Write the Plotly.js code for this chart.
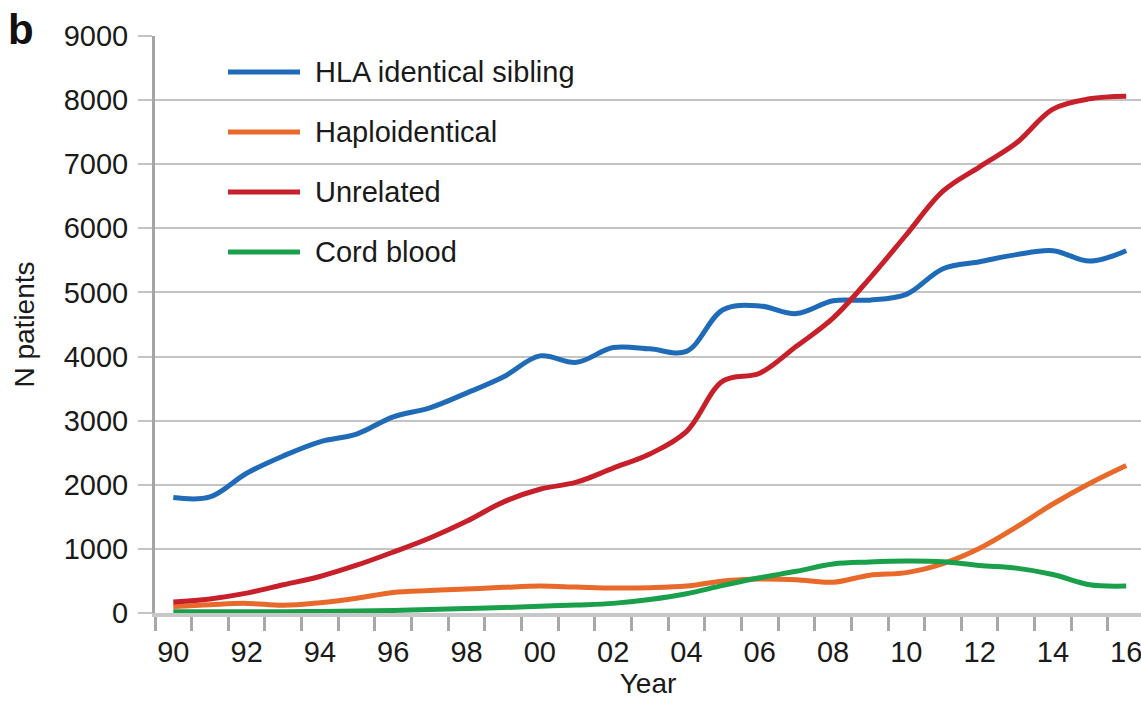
<!DOCTYPE html>
<html><head><meta charset="utf-8">
<script src="https://cdn.plot.ly/plotly-3.0.1.min.js"></script>
<style>html,body{margin:0;padding:0;background:#fff}#chart{width:1141px;height:701px}</style>
</head><body><div id="chart"></div>
<script>
const years = [1990,1991,1992,1993,1994,1995,1996,1997,1998,1999,2000,2001,2002,2003,2004,2005,2006,2007,2008,2009,2010,2011,2012,2013,2014,2015,2016];
const hlaSibling = [1800,1810,2180,2450,2670,2790,3060,3200,3430,3680,4010,3910,4140,4120,4080,4730,4790,4670,4870,4880,4970,5370,5480,5590,5650,5490,5650];
const haploidentical = [100,130,150,120,160,230,320,350,375,400,420,405,390,395,420,500,530,520,480,590,630,770,1010,1340,1700,2020,2300];
const unrelated = [170,220,310,440,570,745,950,1170,1430,1730,1930,2040,2260,2480,2830,3620,3740,4160,4600,5220,5900,6580,6960,7330,7860,8020,8060];
const cordBlood = [20,20,20,20,25,30,40,55,70,85,105,125,150,210,300,430,550,650,765,795,810,800,740,700,600,440,420];
const seriesNames = ['HLA identical sibling','Haploidentical','Unrelated','Cord blood'];
const seriesValues = [hlaSibling, haploidentical, unrelated, cordBlood];
const seriesColors = ['#1f6bb8','#e8692a','#c8202a','#1a9f4a'];
const xTickVals = [1990,1992,1994,1996,1998,2000,2002,2004,2006,2008,2010,2012,2014,2016];
const xTickText = ['90','92','94','96','98','00','02','04','06','08','10','12','14','16'];

const W = 1141, H = 701, ML = 155, MR = 0, MT = 36, MB = 88;
const PW = W - ML - MR, PH = H - MT - MB;
const px2x = p => (p - ML) / PW;
const py2y = p => (H - MB - p) / PH;
const FONT = 'Liberation Sans, Arial, Helvetica, sans-serif';

const traces = seriesNames.map((n, i) => ({
  x: years, y: seriesValues[i], name: n, type: 'scatter', mode: 'lines',
  line: {color: seriesColors[i], width: 5, shape: 'spline', smoothing: 1},
  showlegend: false, hoverinfo: 'x+y+name'
}));

const shapes = [], annotations = [];
seriesNames.forEach((n, i) => {
  const yp = 72 + 60 * i;
  shapes.push({type: 'line', xref: 'paper', yref: 'paper', x0: px2x(228), x1: px2x(300), y0: py2y(yp), y1: py2y(yp),
    line: {color: seriesColors[i], width: 5}});
  annotations.push({xref: 'paper', yref: 'paper', x: px2x(313), y: py2y(yp), xanchor: 'left', yanchor: 'middle',
    text: n, showarrow: false, font: {family: FONT, size: 29, color: '#1a1a1a'}});
});
annotations.push({xref: 'paper', yref: 'paper', x: px2x(6), y: py2y(29), xanchor: 'left', yanchor: 'middle',
  text: '<b>b</b>', showarrow: false, font: {family: FONT, size: 42, color: '#111'}});

const layout = {
  width: W, height: H,
  margin: {l: ML, r: MR, t: MT, b: MB, pad: 0},
  paper_bgcolor: '#fff', plot_bgcolor: '#fff',
  font: {family: FONT, size: 28, color: '#1a1a1a'},
  xaxis: {
    range: [1989.5, 1989.5 + PW / 36.65],
    tickmode: 'array', tickvals: xTickVals, ticktext: xTickText,
    ticks: 'outside', ticklen: 14, tickcolor: 'rgba(0,0,0,0)', tickwidth: 1,
    ticklabelstandoff: -4, ticklabeloverflow: 'allow',
    minor: {tickmode: 'linear', tick0: 1989.5, dtick: 1, ticks: 'outside', ticklen: 14, tickcolor: '#a8a8a8', tickwidth: 3, showgrid: false},
    showgrid: false, zeroline: false,
    showline: true, linecolor: '#c8c8c8', linewidth: 4,
    tickfont: {family: FONT, size: 29, color: '#1a1a1a'},
    title: {text: 'Year', font: {family: FONT, size: 28, color: '#1a1a1a'}, standoff: 6},
    automargin: false, fixedrange: true
  },
  yaxis: {
    range: [0, 9000], tickmode: 'linear', tick0: 0, dtick: 1000,
    ticks: 'outside', ticklen: 14, tickcolor: '#c4c4c4', tickwidth: 2,
    ticklabelstandoff: 4,
    showgrid: true, gridcolor: '#c4c4c4', gridwidth: 2,
    zeroline: false,
    showline: true, linecolor: '#a4a4a4', linewidth: 3,
    tickfont: {family: FONT, size: 29, color: '#1a1a1a'},
    title: {text: 'N patients', font: {family: FONT, size: 28, color: '#1a1a1a'}, standoff: 21},
    automargin: false, fixedrange: true
  },
  shapes: shapes,
  annotations: annotations,
  showlegend: false
};

Plotly.newPlot('chart', traces, layout, {displayModeBar: false, staticPlot: true});
</script>
</body></html>
